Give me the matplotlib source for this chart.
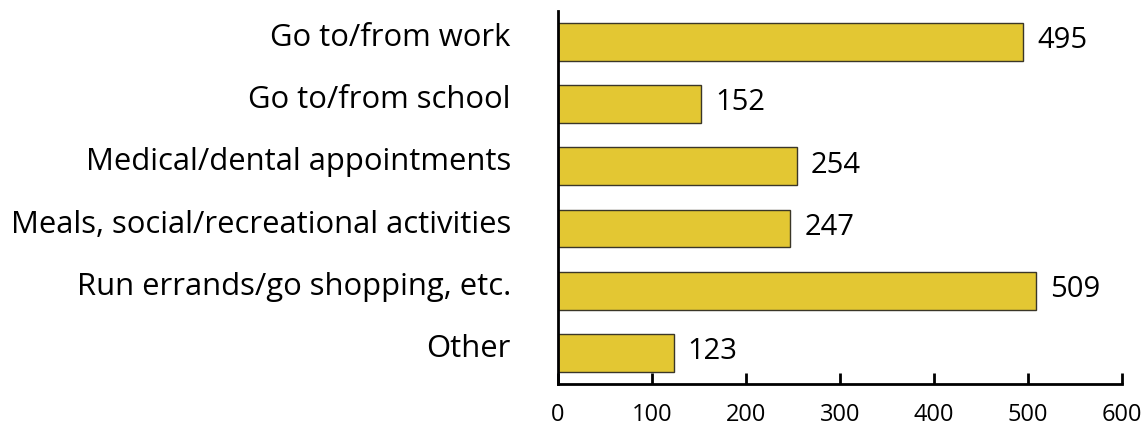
import matplotlib
matplotlib.use("Agg")
import matplotlib.pyplot as plt
from matplotlib.transforms import ScaledTranslation

categorias = [
    "Go to/from work",
    "Go to/from school",
    "Medical/dental appointments",
    "Meals, social/recreational activities",
    "Run errands/go shopping, etc.",
    "Other",
]
valores = [495, 152, 254, 247, 509, 123]
ticks_x = [0, 100, 200, 300, 400, 500, 600]

plt.rcParams['font.family'] = ['Open Sans', 'DejaVu Sans']

fig = plt.figure(figsize=(11.46, 4.26), dpi=100)
ax = fig.add_axes([0.4869, 0.0986, 0.4921, 0.876])

pos = list(range(len(categorias)))
ax.barh(pos, valores, height=0.61, color="#E3C733", edgecolor="#3a3628", linewidth=1)

for y, v in zip(pos, valores):
    ax.text(v + 15, y - 0.02, str(v), va="center", ha="left", fontsize=21, color="black")

ax.set_ylim(len(categorias) - 0.5, -0.5)
ax.set_xlim(0, 600)
ax.set_xticks(ticks_x)
ax.set_xticklabels([str(t) for t in ticks_x], fontsize=17)
ax.set_yticks(pos)
ax.set_yticklabels([])

# etiquetas de categoría a mano, un poco más arriba que el centro de la barra
desplaza = ScaledTranslation(-34 / 72, 2.8 / 72, fig.dpi_scale_trans)
for y, cat in zip(pos, categorias):
    ax.text(0, y, cat, transform=ax.get_yaxis_transform() + desplaza,
            ha="right", va="center", fontsize=22.3, color="black")

for s in ["top", "right"]:
    ax.spines[s].set_visible(False)
ax.spines["left"].set_linewidth(2)
ax.spines["bottom"].set_linewidth(2)
ax.tick_params(axis="x", direction="in", length=8, width=2, pad=14)
ax.tick_params(axis="y", length=0)

fig.savefig("out.png", dpi=100)
